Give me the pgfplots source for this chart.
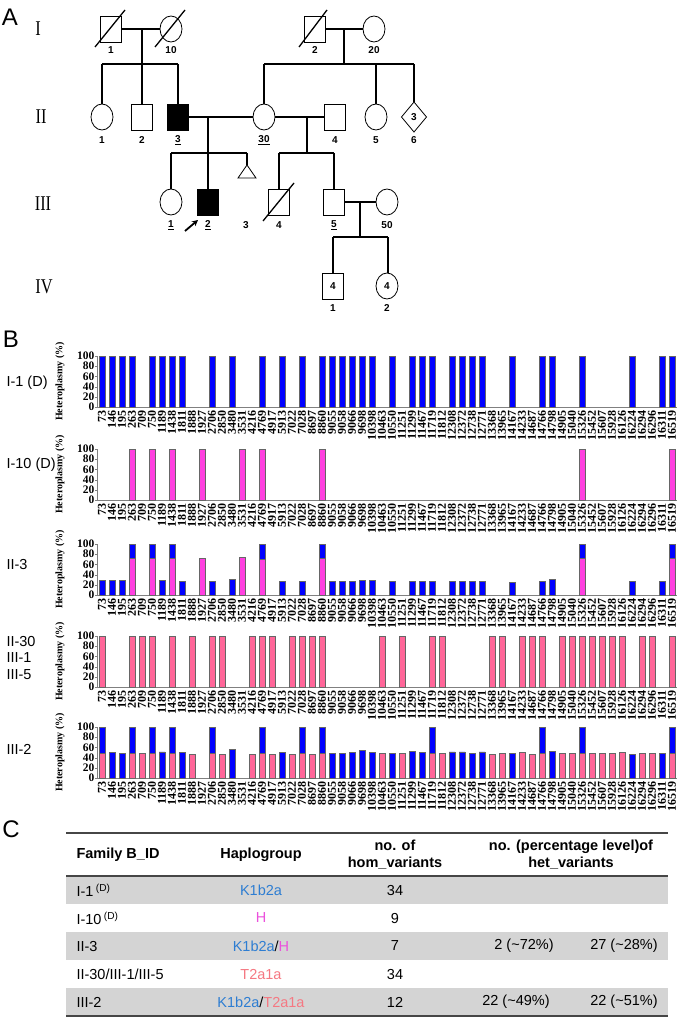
\documentclass[border=0pt]{standalone}
\usepackage{fontspec}
\usepackage{pgfplots}
\usepackage{pgfplotstable}
\pgfplotsset{compat=1.18}
\usetikzlibrary{arrows.meta}
\setmainfont{Liberation Sans}
\newfontfamily\tnr{Liberation Serif}
\newfontfamily\tnrnarrow[FakeStretch=0.78]{Liberation Serif}

\definecolor{kblue}{RGB}{0,0,255}
\definecolor{hmag}{RGB}{255,64,224}
\definecolor{tpink}{RGB}{255,102,153}
\definecolor{txtblue}{RGB}{45,125,210}
\definecolor{txtmag}{RGB}{235,80,220}
\definecolor{txtpink}{RGB}{245,120,130}
\definecolor{rowgray}{RGB}{212,212,212}
\definecolor{rulegray}{RGB}{70,70,70}

% heteroplasmy (%) per variant; Ia = I-1, Ib = I-10, IIb/IIm = II-3 blue/magenta,
% T = II-30/III-1/III-5, IIIb/IIIp = III-2 blue/pink
\pgfplotstableread{
idx pos   Ia   Ib   IIb  IIm  T    IIIb IIIp
0   73    100  nan  28   nan  100  100  48
1   146   100  nan  28   nan  nan  50   nan
2   195   100  nan  28   nan  nan  49   nan
3   263   100  100  100  72   100  100  48
4   709   nan  nan  nan  nan  100  nan  48
5   750   100  100  100  72   100  100  48
6   1189  100  nan  28   nan  nan  51   nan
7   1438  100  100  100  72   100  100  48
8   1811  100  nan  27   nan  nan  50   nan
9   1888  nan  nan  nan  nan  100  nan  47
10  1927  nan  100  nan  72   nan  nan  nan
11  2706  100  nan  27   nan  100  100  48
12  2850  nan  nan  nan  nan  100  nan  46
13  3480  100  nan  31   nan  nan  56   nan
14  3531  nan  100  nan  74   nan  nan  nan
15  4216  nan  nan  nan  nan  100  nan  47
16  4769  100  100  100  70   100  100  48
17  4917  nan  nan  nan  nan  100  nan  47
18  5913  100  nan  26   nan  nan  50   nan
19  7022  nan  nan  nan  nan  100  nan  46
20  7028  100  nan  26   nan  100  100  48
21  8697  nan  nan  nan  nan  100  nan  46
22  8860  100  100  100  72   100  100  48
23  9055  100  nan  26   nan  nan  48   nan
24  9058  100  nan  26   nan  nan  48   nan
25  9066  100  nan  27   nan  nan  50   nan
26  9698  100  nan  28   nan  nan  54   nan
27  10398 100  nan  28   nan  nan  50   nan
28  10463 nan  nan  nan  nan  100  nan  49
29  10550 100  nan  26   nan  nan  49   nan
30  11251 nan  nan  nan  nan  100  nan  48
31  11299 100  nan  27   nan  nan  52   nan
32  11467 100  nan  27   nan  nan  50   nan
33  11719 100  nan  27   nan  100  100  48
34  11812 nan  nan  nan  nan  100  nan  48
35  12308 100  nan  27   nan  nan  51   nan
36  12372 100  nan  27   nan  nan  51   nan
37  12738 100  nan  26   nan  nan  49   nan
38  12771 100  nan  26   nan  nan  51   nan
39  13368 nan  nan  nan  nan  100  nan  46
40  13965 nan  nan  nan  nan  100  nan  48
41  14167 100  nan  25   nan  nan  49   nan
42  14233 nan  nan  nan  nan  100  nan  50
43  14687 nan  nan  nan  nan  100  nan  47
44  14766 100  nan  26   nan  100  100  48
45  14798 100  nan  30   nan  nan  52   nan
46  14905 nan  nan  nan  nan  100  nan  48
47  15040 nan  nan  nan  nan  100  nan  48
48  15326 100  100  100  72   100  100  48
49  15452 nan  nan  nan  nan  100  nan  49
50  15607 nan  nan  nan  nan  100  nan  48
51  15928 nan  nan  nan  nan  100  nan  48
52  16126 nan  nan  nan  nan  100  nan  50
53  16224 100  nan  26   nan  nan  46   nan
54  16294 nan  nan  nan  nan  100  nan  48
55  16296 nan  nan  nan  nan  100  nan  48
56  16311 100  nan  27   nan  nan  48   nan
57  16519 100  100  100  72   100  100  48
}\mtdna

\pgfplotsset{hetero/.style={
  scale only axis, width=580pt, height=51pt,
  xmin=-0.5, xmax=57.5, ymin=0, ymax=100,
  axis x line*=bottom, axis y line*=left,
  axis line style={-, draw=gray, line width=0.8pt},
  ytick={0,20,...,100}, xtick={0,...,57},
  xticklabels={73,146,195,263,709,750,1189,1438,1811,1888,1927,2706,2850,3480,3531,4216,4769,4917,5913,7022,7028,8697,8860,9055,9058,9066,9698,10398,10463,10550,11251,11299,11467,11719,11812,12308,12372,12738,12771,13368,13965,14167,14233,14687,14766,14798,14905,15040,15326,15452,15607,15928,16126,16224,16294,16296,16311,16519},
  xtick style={draw=none},
  ytick style={draw=gray},
  tick align=outside, major tick length=2pt,
  x tick label style={font=\tnr\bfseries\fontsize{12}{12}\selectfont,
    rotate=90, anchor=east, inner sep=1pt},
  y tick label style={font=\tnr\bfseries\fontsize{11.5}{11.5}\selectfont, inner sep=0.5pt},
  /pgf/number format/assume math mode=true,
  ylabel={Heteroplasmy (\%)},
  ylabel style={font=\tnr\bfseries\fontsize{10}{10}\selectfont,
    at={(axis description cs:-0.05,0.5)}, anchor=south},
  ybar, bar width=6pt,
}}
\tikzset{bars/.style={draw=gray!80!black, line width=0.6pt, bar shift=0pt}}

\newcommand\pedfont{\bfseries\fontsize{10}{10}\selectfont}
\newcommand\tabfont{\fontsize{14.5}{17}\selectfont}
\newcommand\psq[3][white]{\draw[line width=0.8pt, fill=#1] ({#2-10.5},{#3-13}) rectangle ({#2+10.5},{#3+13});}
\newcommand\pci[2]{\draw[line width=0.8pt, fill=white] (#1,#2) ellipse [x radius=11, y radius=13];}

\begin{document}
\begin{tikzpicture}
\useasboundingbox (0,0) rectangle (680pt,-1019pt);

\begin{scope}[x=1pt,y=-1pt]
% ---------- A: pedigree ----------
\node[font=\fontsize{24}{24}\selectfont] at (10,17) {A};
\node[font=\fontsize{24}{24}\selectfont] at (11,339) {B};
\node[font=\fontsize{24}{24}\selectfont] at (11,829) {C};

\foreach \r/\yy/\xx in {I/29/38, II/117/41, III/204/43, IV/287/44}
  \node[font=\tnrnarrow\fontsize{21}{21}\selectfont] at (\xx,\yy) {\r};

\begin{scope}[line width=1.7pt]
\draw (122,29)--(160,29) (142,29)--(142,64) (102,64)--(178,64)
      (102,64)--(102,104) (142,64)--(142,104) (178,64)--(178,104);
\draw (326,29)--(363,29) (344,29)--(344,64) (264,64)--(414,64)
      (264,64)--(264,104) (376,64)--(376,104) (414,64)--(414,102);
\draw (189,117)--(253,117) (208,117)--(208,153) (171,153)--(247,153)
      (171,153)--(171,189) (208,153)--(208,189) (247,153)--(247,165);
\draw (275,117)--(325,117) (307,117)--(307,153) (279,153)--(334,153)
      (279,153)--(279,189) (334,153)--(334,189);
\draw (344,202)--(376,202) (360,202)--(360,237) (333,237)--(388,237)
      (333,237)--(333,273) (388,237)--(388,273);
\end{scope}

% generation I
\psq{111}{29} \pci{171}{29} \psq{315}{29} \pci{374}{29}
\draw[line width=1.3pt] (95,47)--(125,10) (155,47)--(185,10) (299,47)--(327,10);
% generation II
\pci{102}{117} \psq{142}{117} \psq[black]{178}{117} \pci{264}{117}
\psq{335}{117} \pci{376}{117}
\draw[line width=0.8pt, fill=white] (414,102)--(426.5,117)--(414,132)--(401.5,117)--cycle;
\node[font=\pedfont] at (414,117) {3};
\draw[line width=0.8pt] (247,165)--(256,178)--(238,178)--cycle;
% generation III
\pci{171}{202} \psq[black]{208}{202} \psq{279}{202} \psq{334}{202} \pci{387}{202}
\draw[line width=1.3pt] (263,221)--(294,183);
\draw[line width=1.8pt, -{Stealth[length=6pt,width=6pt]}] (185,231)--(198,220);
% generation IV
\psq{333}{286} \pci{387}{286}
\node[font=\pedfont] at (333,286) {4};
\node[font=\pedfont] at (387,286) {4};

\foreach \xx/\yy/\t in {111/50/1, 171/50/10, 315/50/2, 374/50/20,
  102/140/1, 142/140/2, 178/140/\underline{3}, 264/140/\underline{30}, 335/140/4,
  376/140/5, 414/140/6,
  171/225/\underline{1}, 208/225/\underline{2}, 246/225/3, 279/225/4,
  334/225/\underline{5}, 387/225/50, 333/308/1, 387/308/2}
  \node[font=\pedfont] at (\xx,\yy) {\t};

% ---------- B: row labels ----------
\begin{scope}[font=\fontsize{14.5}{14.5}\selectfont]
\node[anchor=west] at (3,383) {I-1 (D)};
\node[anchor=west] at (3,465) {I-10 (D)};
\node[anchor=west] at (3,565) {II-3};
\node[anchor=west] at (3,642) {II-30};
\node[anchor=west] at (3,658) {III-1};
\node[anchor=west] at (3,675) {III-5};
\node[anchor=west] at (3,749) {III-2};
\end{scope}

% ---------- C: table ----------
\fill[rowgray] (66,876) rectangle (668,904);
\fill[rowgray] (66,932) rectangle (668,960);
\fill[rowgray] (66,988) rectangle (668,1016);
\draw[rulegray, line width=1.6pt] (66,833)--(668,833);
\draw[rulegray, line width=1.2pt] (66,876)--(668,876);
\draw[rulegray, line width=1.6pt] (66,1016)--(668,1016);

\begin{scope}[font=\tabfont]
\node[anchor=west, font=\tabfont\bfseries] at (73,855) {Family B\_ID};
\node[font=\tabfont\bfseries] at (261,855) {Haplogroup};
\node[font=\tabfont\bfseries, align=center] at (395,855) {no. of\\hom\_variants};
\node[font=\tabfont\bfseries, align=center] at (571,855) {no. (percentage level)of\\het\_variants};

\node[anchor=west] at (73,890) {I-1\,\textsuperscript{(D)}};
\node[text=txtblue] at (261,890) {K1b2a};
\node at (395,890) {34};

\node[anchor=west] at (73,918) {I-10\,\textsuperscript{(D)}};
\node[text=txtmag] at (261,918) {H};
\node at (395,918) {9};

\node[anchor=west] at (73,946) {II-3};
\node at (261,946) {\textcolor{txtblue}{K1b2a}/\textcolor{txtmag}{H}};
\node at (395,946) {7};
\node at (524,946) {2 (\textasciitilde72\%)};
\node at (624,946) {27 (\textasciitilde28\%)};

\node[anchor=west] at (73,974) {II-30/III-1/III-5};
\node[text=txtpink] at (261,974) {T2a1a};
\node at (395,974) {34};

\node[anchor=west] at (73,1002) {III-2};
\node at (261,1002) {\textcolor{txtblue}{K1b2a}/\textcolor{txtpink}{T2a1a}};
\node at (395,1002) {12};
\node at (516,1002) {22 (\textasciitilde49\%)};
\node at (624,1002) {22 (\textasciitilde51\%)};
\end{scope}
\end{scope}

% ---------- B: heteroplasmy charts ----------
\begin{axis}[hetero, at={(97pt,-407pt)}, anchor=south west]
  \addplot[bars, fill=kblue] table[x=idx, y=Ia] {\mtdna};
\end{axis}

\begin{axis}[hetero, at={(97pt,-500pt)}, anchor=south west]
  \addplot[bars, fill=hmag] table[x=idx, y=Ib] {\mtdna};
\end{axis}

\begin{axis}[hetero, at={(97pt,-595pt)}, anchor=south west]
  \addplot[bars, fill=kblue] table[x=idx, y=IIb] {\mtdna};
  \addplot[bars, fill=hmag] table[x=idx, y=IIm] {\mtdna};
\end{axis}

\begin{axis}[hetero, at={(97pt,-687pt)}, anchor=south west]
  \addplot[bars, fill=tpink] table[x=idx, y=T] {\mtdna};
\end{axis}

\begin{axis}[hetero, at={(97pt,-778pt)}, anchor=south west]
  \addplot[bars, fill=kblue] table[x=idx, y=IIIb] {\mtdna};
  \addplot[bars, fill=tpink] table[x=idx, y=IIIp] {\mtdna};
\end{axis}
\end{tikzpicture}
\end{document}
